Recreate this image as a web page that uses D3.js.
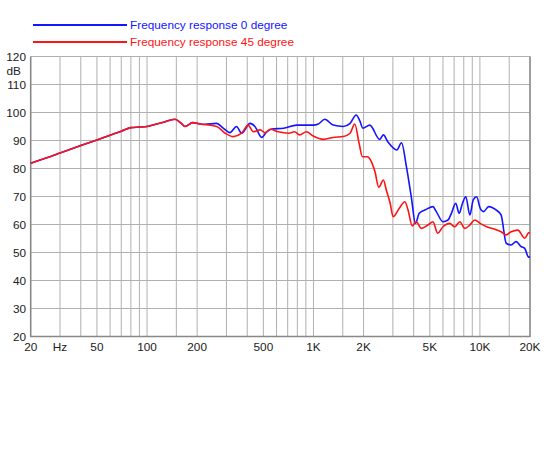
<!DOCTYPE html>
<html>
<head>
<meta charset="utf-8">
<script src="https://cdn.jsdelivr.net/npm/d3@7"></script>
<style>
  body { margin: 0; background: #fff; }
  text { font-family: "Liberation Sans", Arial, Helvetica, sans-serif; font-size: 11.8px; fill: #222; }
</style>
</head>
<body>
<div id="chart"></div>
<script>
// Datos
var freq0 = [20, 25, 30, 40, 50, 60, 70, 80, 90, 100, 114, 124, 147, 160, 169, 188, 208, 224, 262, 287,
    315, 345, 370, 416, 445, 489, 524, 562, 661, 793, 996, 1070, 1170, 1313, 1510, 1660, 1805, 1900,
    1980, 2180, 2500, 2630, 2800, 3170, 3380, 3620, 3870, 4100, 4320, 4760, 5220, 5470, 6000, 6430,
    6740, 7160, 7500, 7860, 8230, 8700, 9120, 9560, 10040, 10500, 11300, 12500, 13400, 14400, 15400,
    16500, 17700, 18600, 19500, 20000];
var db0 = [81.9, 83.8, 85.5, 88.2, 90.2, 91.9, 93.3, 94.6, 94.8, 95.0, 95.9, 96.4, 97.6, 96.2, 95.0, 96.4, 95.9, 95.8, 96.1, 94.4,
    92.8, 95.0, 92.6, 96.1, 95.0, 91.1, 93.1, 94.1, 94.4, 95.5, 95.5, 95.9, 97.6, 95.5, 95.0, 96.1, 99.1, 97.0,
    94.4, 95.5, 90.4, 92.0, 89.5, 86.6, 89.2, 80.6, 69.9, 60.4, 64.0, 65.4, 66.4, 64.6, 61.0, 61.6,
    64.0, 67.6, 64.0, 67.6, 69.9, 63.4, 68.8, 69.9, 65.8, 64.6, 66.4, 65.2, 63.4, 53.3, 52.7,
    53.9, 52.1, 51.5, 48.5, 48.3];

var freq45 = [20, 25, 30, 40, 50, 60, 70, 80, 90, 100, 114, 124, 147, 160, 169, 188, 208, 262, 295, 330,
    370, 405, 435, 478, 512, 550, 615, 710, 770, 826, 906, 996, 1150, 1313, 1510, 1660, 1770, 1880,
    1970, 2100, 2230, 2340, 2470, 2630, 2740, 2890, 3010, 3280, 3540, 3700, 3920, 4150, 4450, 4870,
    5220, 5580, 6000, 6580, 7060, 7580, 8110, 8700, 9320, 10040, 11000, 12300, 13400, 14400, 15400,
    16900, 18600, 19700, 20000];
var db45 = [81.9, 83.8, 85.5, 88.2, 90.2, 91.9, 93.3, 94.6, 94.8, 95.0, 95.9, 96.4, 97.6, 96.2, 95.0, 96.4, 95.9, 95.0, 92.6, 91.4,
    92.6, 95.5, 93.1, 93.8, 92.8, 94.0, 93.1, 92.6, 93.1, 92.0, 93.1, 91.6, 90.4, 91.1, 91.4, 92.6, 95.9, 89.0,
    84.2, 84.2, 82.4, 78.9, 73.3, 75.9, 72.3, 67.6, 62.8, 65.8, 68.1, 65.2, 59.5, 61.0, 58.6, 59.8,
    61.0, 56.9, 59.2, 60.4, 59.2, 61.0, 58.6, 59.8, 61.6, 60.4, 59.2, 58.3, 57.4, 56.3, 57.4,
    58.0, 55.1, 57.1, 57.0];

var gridFreqs = [30, 40, 50, 60, 70, 80, 90, 100, 150, 200, 300, 400, 500, 600, 700, 800, 900,
    1000, 1500, 2000, 3000, 4000, 5000, 6000, 7000, 8000, 9000, 10000, 15000];
var labelFreqs = [20, 30, 50, 100, 200, 500, 1000, 2000, 5000, 10000, 20000];
var labelTexts = ["20", "Hz", "50", "100", "200", "500", "1K", "2K", "5K", "10K", "20K"];
var dbTicks = [20, 30, 40, 50, 60, 70, 80, 90, 100, 110, 120];

var seriesNames = ["Frequency response 0 degree", "Frequency response 45 degree"];
var seriesColors = ["#1414ff", "#ff1414"];

var width = 550, height = 450;
var plot = {left: 30.7, right: 530, top: 56.5, bottom: 336.5};

var svg = d3.select("#chart").append("svg")
    .attr("width", width)
    .attr("height", height);

var x = d3.scaleLog().domain([20, 20000]).range([plot.left, plot.right]);
var y = d3.scaleLinear().domain([20, 120]).range([plot.bottom, plot.top]);

// lineas de la rejilla
svg.append("g").selectAll("line")
    .data(gridFreqs)
    .enter().append("line")
    .attr("x1", d => x(d)).attr("x2", d => x(d))
    .attr("y1", plot.top).attr("y2", plot.bottom)
    .attr("stroke", "#b0b0b0").attr("stroke-width", 1);

svg.append("g").selectAll("line")
    .data(dbTicks.slice(1))
    .enter().append("line")
    .attr("x1", plot.left).attr("x2", plot.right)
    .attr("y1", d => y(d)).attr("y2", d => y(d))
    .attr("stroke", "#b0b0b0").attr("stroke-width", 1);

// marco
svg.append("path")
    .attr("d", "M" + plot.left + "," + plot.top + "V" + plot.bottom + "H" + plot.right + "V" + plot.top)
    .attr("fill", "none")
    .attr("stroke", "#888")
    .attr("stroke-width", 1.6);

// etiquetas eje Y
svg.append("g").selectAll("text")
    .data(dbTicks)
    .enter().append("text")
    .attr("x", 26)
    .attr("y", d => y(d))
    .attr("dy", "0.36em")
    .attr("text-anchor", "end")
    .text(d => d);

svg.append("text")
    .attr("x", 21)
    .attr("y", y(115))
    .attr("dy", "0.36em")
    .attr("text-anchor", "end")
    .text("dB");

// etiquetas eje X
svg.append("g").selectAll("text")
    .data(labelFreqs)
    .enter().append("text")
    .attr("x", d => x(d))
    .attr("y", 351)
    .attr("text-anchor", "middle")
    .text((d, i) => labelTexts[i]);

// curvas
var line = d3.line()
    .x(d => x(d[0]))
    .y(d => y(d[1]))
    .curve(d3.curveMonotoneX);

var series = [d3.zip(freq0, db0), d3.zip(freq45, db45)];

svg.append("g").selectAll("path")
    .data(series)
    .enter().append("path")
    .attr("d", line)
    .attr("fill", "none")
    .attr("stroke", (d, i) => seriesColors[i])
    .attr("stroke-width", 1.6)
    .attr("stroke-linejoin", "round");

// leyenda
var legend = svg.append("g").selectAll("g")
    .data(seriesNames)
    .enter().append("g")
    .attr("transform", (d, i) => "translate(0," + (25 + i * 17) + ")");

legend.append("line")
    .attr("x1", 33).attr("x2", 127)
    .attr("stroke", (d, i) => seriesColors[i])
    .attr("stroke-width", 2);

legend.append("text")
    .attr("x", 130)
    .attr("dy", "0.36em")
    .style("fill", (d, i) => seriesColors[i])
    .text(d => d);
</script>
</body>
</html>
